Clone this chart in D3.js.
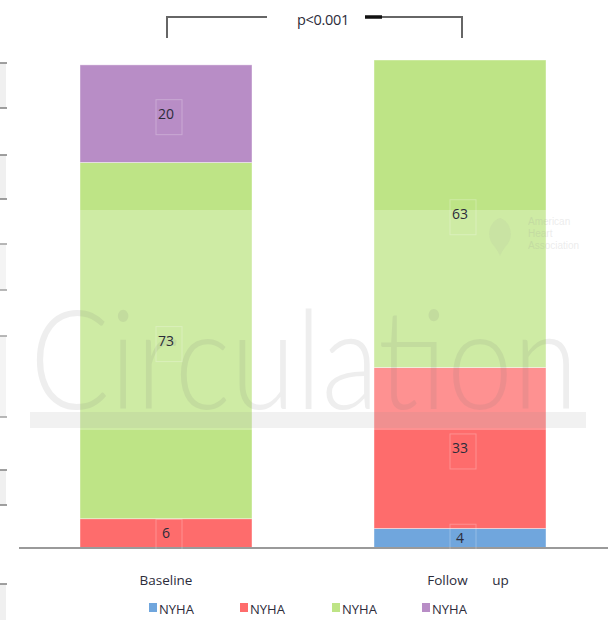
<!DOCTYPE html>
<html>
<head>
<meta charset="utf-8">
<script src="https://cdn.jsdelivr.net/npm/d3@7"></script>
<style>
  html, body { margin: 0; padding: 0; background: #fff; }
  svg { display: block; }
</style>
</head>
<body>
<div id="chart"></div>
<script>
// NYHA functional class distribution (%), baseline vs follow-up
const categories = ["Baseline", "Follow up"];
const classes = ["NYHA I", "NYHA II", "NYHA III", "NYHA IV"];
const legendLabels = ["NYHA", "NYHA", "NYHA", "NYHA"];
const nyhaI   = [0, 4];
const nyhaII  = [6, 33];
const nyhaIII = [73, 63];
const nyhaIV  = [20, 0];
const colors = ["#70a6dd", "#fe6c6c", "#bee486", "#b88dc6"];
const pLabel = "p<0.001";

const W = 608, H = 620;
const FONT = "'Open Sans', 'Liberation Sans', sans-serif";
const svg = d3.select("#chart").append("svg").attr("width", W).attr("height", H);

const rows = categories.map((c, i) => ({
  cat: c, "NYHA I": nyhaI[i], "NYHA II": nyhaII[i], "NYHA III": nyhaIII[i], "NYHA IV": nyhaIV[i]
}));
const stacked = d3.stack().keys(classes)(rows);

const x = d3.scaleBand().domain(categories).range([19, 607])
  .paddingInner(0.415).paddingOuter(0.2075);
const y = d3.scaleLinear().domain([0, 100]).range([548, 60]);
const color = d3.scaleOrdinal().domain(classes).range(colors);

// Clipped frame strip along the left edge
const strip = [[63, 108], [155, 199], [244, 290], [336, 417], [470, 505], [584, 630]];
const sg = svg.append("g");
strip.forEach(([a, b]) => {
  sg.append("rect").attr("x", 0).attr("y", a).attr("width", 6).attr("height", b - a).attr("fill", "#f0f0f0");
  [a, b].forEach(v => sg.append("line").attr("x1", 0).attr("x2", 7).attr("y1", v).attr("y2", v)
    .attr("stroke", "#888").attr("stroke-width", 1.6));
});

// Stacked bars
const layers = svg.append("g").selectAll("g").data(stacked).join("g")
  .attr("fill", d => color(d.key));
layers.selectAll("rect").data(d => d.map(p => ({ p, key: d.key })))
  .join("rect")
  .attr("x", d => x(d.p.data.cat))
  .attr("width", x.bandwidth())
  .attr("y", d => y(d.p[1]))
  .attr("height", d => y(d.p[0]) - y(d.p[1]))
  .attr("stroke", "#fff").attr("stroke-opacity", 0.5).attr("stroke-width", 0.8);

// Category axis line
svg.append("line").attr("x1", 19).attr("x2", W).attr("y1", 548).attr("y2", 548)
  .attr("stroke", "#9a9a9a").attr("stroke-width", 2);

// Watermark
const wm = svg.append("g");
wm.append("rect").attr("x", 0).attr("y", 210).attr("width", W).attr("height", 220)
  .attr("fill", "#fff").attr("opacity", 0.25);
wm.append("text").attr("x", 30).attr("y", 409)
  .attr("textLength", 548).attr("lengthAdjust", "spacingAndGlyphs")
  .style("font-family", "Lato, 'Open Sans', sans-serif").style("font-weight", 300)
  .style("font-size", "138px").attr("fill", "#777").attr("opacity", 0.12)
  .text("Circulation");
wm.append("rect").attr("x", 30).attr("y", 412).attr("width", 556).attr("height", 16)
  .attr("fill", "#888").attr("opacity", 0.12);
// Society mark
wm.append("path")
  .attr("d", "M500,218 C488,222 486,238 494,246 C497,250 499,253 500,256 C501,253 503,250 506,246 C514,238 512,222 500,218 Z")
  .attr("fill", "#999").attr("opacity", 0.1);
["American", "Heart", "Association"].forEach((t, i) => wm.append("text")
  .attr("x", 528).attr("y", 225 + i * 12).style("font-family", "Arial, sans-serif")
  .style("font-size", "10px").attr("fill", "#999").attr("opacity", 0.18).text(t));

// Value labels
const labels = [];
stacked.forEach(layer => layer.forEach(p => {
  const v = p[1] - p[0];
  if (v > 0) labels.push({ cat: p.data.cat, v, mid: (p[0] + p[1]) / 2 });
}));
const lg = svg.append("g").style("font-family", FONT).style("font-size", "14px");
lg.selectAll("rect").data(labels).join("rect")
  .attr("x", d => x(d.cat) + x.bandwidth() / 2 - 10)
  .attr("y", d => y(d.mid) - 14).attr("width", 26).attr("height", 35)
  .attr("fill", "none").attr("stroke", "#fff").attr("stroke-opacity", 0.25);
lg.selectAll("text").data(labels).join("text")
  .attr("x", d => x(d.cat) + x.bandwidth() / 2)
  .attr("y", d => y(d.mid) + 5)
  .attr("text-anchor", "middle").attr("fill", "#2c2c3a")
  .text(d => d.v);

// Category labels
svg.append("g").selectAll("text").data(categories).join("text")
  .attr("x", d => x(d) + x.bandwidth() / 2 + (d === "Follow up" ? 8 : 0))
  .attr("y", 585).attr("text-anchor", "middle")
  .style("font-family", FONT).style("font-size", "13.5px")
  .style("white-space", "pre").attr("fill", "#2c2c3a")
  .text(d => d.replace(" ", "       "));

// Significance bracket
const xl = x(categories[0]) + x.bandwidth() / 2 + 1;
const xr = x(categories[1]) + x.bandwidth() / 2 + 2;
const bk = svg.append("g").attr("fill", "none").attr("stroke", "#666").attr("stroke-width", 2);
bk.append("path").attr("d", `M${xl},38 V17 H267`);
bk.append("path").attr("d", `M382,17 H${xr} V38`);
svg.append("line").attr("x1", 365).attr("x2", 382).attr("y1", 17).attr("y2", 17)
  .attr("stroke", "#111").attr("stroke-width", 3.5);
svg.append("text").attr("x", 323).attr("y", 25).attr("text-anchor", "middle")
  .style("font-family", FONT).style("font-size", "14.5px").style("letter-spacing", "-0.3px")
  .attr("fill", "#2c2c3a").text(pLabel);

// Legend
const legX = [149, 240, 332, 422];
const leg = svg.append("g").selectAll("g").data(classes).join("g")
  .attr("transform", (d, i) => `translate(${legX[i]},614)`);
leg.append("rect").attr("x", 0).attr("y", -11).attr("width", 8).attr("height", 9)
  .attr("fill", d => color(d));
leg.append("text").attr("x", 10).attr("y", 0)
  .style("font-family", FONT).style("font-size", "13px")
  .attr("fill", "#2c2c3a").text((d, i) => legendLabels[i]);
</script>
</body>
</html>
